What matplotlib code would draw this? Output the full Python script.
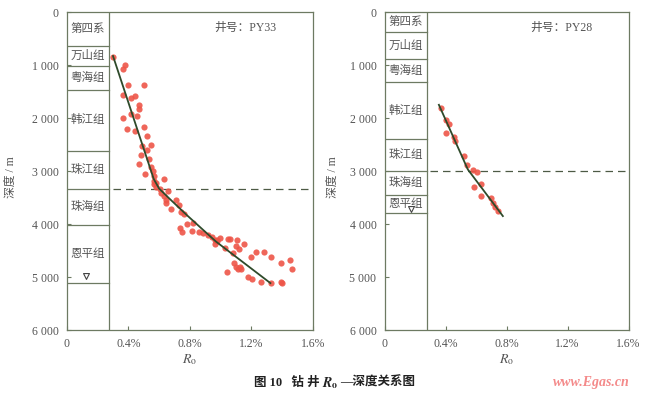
import matplotlib
matplotlib.use("Agg")
import matplotlib.pyplot as plt
from matplotlib.ticker import FixedLocator

plt.rcParams['font.family'] = ['Liberation Serif', 'Noto Sans CJK SC']
plt.rcParams['mathtext.fontset'] = 'stix'

# ---- data ----
# well PY33
py33_ro = [0.30, 0.38, 0.366, 0.40, 0.50, 0.366, 0.44, 0.416, 0.468, 0.468,
           0.414, 0.366, 0.453, 0.39, 0.44, 0.50, 0.52, 0.49, 0.55, 0.52,
           0.48, 0.535, 0.468, 0.546, 0.56, 0.507, 0.57, 0.57, 0.63, 0.58,
           0.565, 0.577, 0.605, 0.66, 0.61, 0.63, 0.648, 0.648, 0.71, 0.68,
           0.73, 0.745, 0.76, 0.78, 0.82, 0.735, 0.75, 0.817, 0.86, 0.886,
           0.92, 0.947, 0.962, 0.977, 0.995, 1.05, 0.962, 0.98, 1.03, 1.06,
           1.11, 1.10, 1.12, 1.15, 1.08, 1.196, 1.23, 1.28, 1.33, 1.395,
           1.45, 1.465, 1.09, 1.10, 1.125, 1.135, 1.115, 1.04, 1.18, 1.207,
           1.265, 1.33, 1.395, 1.40]
py33_depth = [855, 1000, 1075, 1377, 1377, 1560, 1585, 1630, 1755, 1837,
              1925, 1990, 1962, 2200, 2240, 2160, 2330, 2520, 2510, 2610,
              2705, 2775, 2870, 2920, 3000, 3060, 3100, 3180, 3150, 3230,
              3245, 3295, 3345, 3370, 3420, 3470, 3545, 3600, 3545, 3725,
              3640, 3765, 3810, 4005, 3975, 4080, 4155, 4130, 4145, 4175,
              4210, 4240, 4300, 4320, 4270, 4285, 4380, 4300, 4460, 4285,
              4300, 4415, 4480, 4385, 4555, 4615, 4520, 4520, 4615, 4740,
              4680, 4840, 4730, 4805, 4805, 4840, 4855, 4910, 5005, 5040,
              5090, 5105, 5090, 5120]
py33_fit_ro = [0.30, 0.565, 0.60, 0.66, 0.78, 0.97, 1.325]
py33_fit_depth = [830, 3150, 3330, 3500, 3830, 4330, 5115]

# well PY28
py28_ro = [0.372, 0.405, 0.42, 0.405, 0.455, 0.464, 0.52, 0.542, 0.577, 0.608,
           0.63, 0.586, 0.63, 0.70, 0.71, 0.726, 0.743]
py28_depth = [1817, 2040, 2113, 2277, 2352, 2428, 2711, 2887, 2981, 3013,
              3245, 3296, 3472, 3515, 3598, 3673, 3750]
py28_fit_ro = [0.355, 0.545, 0.775]
py28_fit_depth = [1750, 2970, 3850]

strata_names = ["第四系", "万山组", "粤海组", "韩江组", "珠江组", "珠海组", "恩平组"]
py33_tops = [0, 640, 1020, 1470, 2620, 3340, 4010, 5110]
py28_tops = [0, 380, 890, 1320, 2400, 3000, 3450, 3800]

x_ticks = [0, 0.4, 0.8, 1.2, 1.6]
x_labels = ["0", "0.4%", "0.8%", "1.2%", "1.6%"]
y_ticks = [0, 1000, 2000, 3000, 4000, 5000, 6000]
y_labels = ["0", "1 000", "2 000", "3 000", "4 000", "5 000", "6 000"]

frame_c = "#6d7a62"
text_c = "#555555"
dot_c = "#ee5548"
line_c = "#2e4a2a"
col_w = 0.274

fig = plt.figure(figsize=(6.5, 3.94), dpi=100)


def draw_well(ax, ro, depth, fit_ro, fit_depth, tops, well, bound, tri_x, tri_d, ylab_x):
    ax.set_xlim(0, 1.6)
    ax.set_ylim(6000, 0)
    for s in ax.spines.values():
        s.set_color(frame_c)
        s.set_linewidth(0.9)
    ax.xaxis.set_major_locator(FixedLocator(x_ticks))
    ax.set_xticklabels(x_labels)
    ax.yaxis.set_major_locator(FixedLocator(y_ticks))
    ax.set_yticklabels(y_labels)
    ax.tick_params(direction="in", length=3, color=frame_c, labelcolor=text_c,
                   labelsize=8.5, pad=6)
    ax.set_xlabel("$R_\\mathrm{o}$", color=text_c, fontsize=10, labelpad=1)
    ax.set_ylabel("深度 / m", color=text_c, fontsize=8.5)
    ax.yaxis.set_label_coords(ylab_x, 0.48)

    # strata column
    ax.plot([col_w, col_w], [0, 6000], color=frame_c, lw=0.9)
    for t in tops[1:]:
        ax.plot([0, col_w], [t, t], color=frame_c, lw=0.9)
    for i, name in enumerate(strata_names):
        mid = (tops[i] + tops[i + 1]) / 2
        ax.text(col_w / 2, mid, name, ha="center", va="center",
                color=text_c, fontsize=8.3)
    ax.scatter([tri_x], [tri_d], marker="v", s=18, facecolor="white",
               edgecolor="#444444", linewidth=0.8, zorder=4)

    ax.plot([col_w + 0.025, 1.6], [bound, bound], color="#4d5a45",
            lw=0.9, ls=(0, (6, 4)))
    ax.scatter(ro, depth, s=20, color=dot_c, alpha=0.9, lw=0, zorder=3)
    ax.plot(fit_ro, fit_depth, color=line_c, lw=1.3, zorder=4)
    ax.text(1.16, 300, "井号：" + well, ha="center", va="center",
            color=text_c, fontsize=8.5)


ax1 = fig.add_axes([0.103, 0.1624, 0.378, 0.807])
draw_well(ax1, py33_ro, py33_depth, py33_fit_ro, py33_fit_depth,
          py33_tops, "PY33", 3340, 0.124, 4990, -0.203)

ax2 = fig.add_axes([0.592, 0.1624, 0.375, 0.807])
draw_well(ax2, py28_ro, py28_depth, py28_fit_ro, py28_fit_depth,
          py28_tops, "PY28", 3000, 0.175, 3710, -0.19)

# caption, split so the Chinese parts use the CJK font
cap_y = 0.028
fig.text(0.491, cap_y, "图 10   钻 井", ha="right", va="center",
         fontsize=9, fontweight="bold", color="#222222")
fig.text(0.495, cap_y, "$\\boldsymbol{R}_\\mathbf{o}$", ha="left", va="center",
         fontsize=10, color="#222222")
fig.text(0.523, cap_y, "—深度关系图", ha="left", va="center",
         fontsize=9, fontweight="bold", color="#222222")
fig.text(0.91, cap_y, "www.Egas.cn", ha="center", va="center",
         fontsize=10, style="italic", fontweight="bold", color="#f48a8a")

fig.savefig("out.png", dpi=100)
